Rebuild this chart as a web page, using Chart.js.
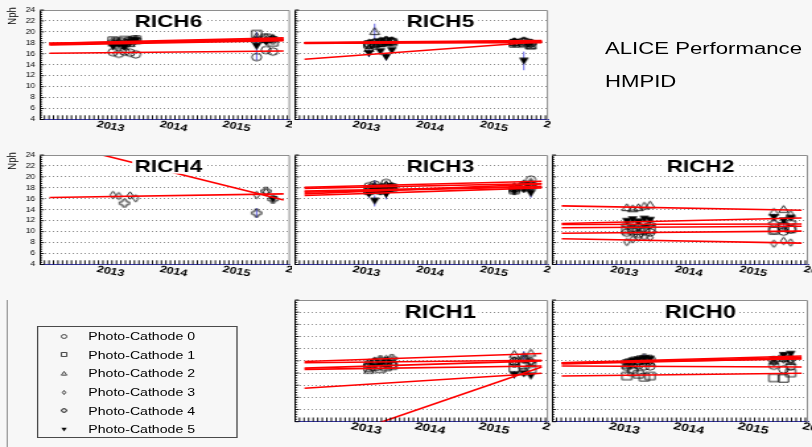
<!DOCTYPE html>
<html>
<head>
<meta charset="utf-8">
<script src="https://cdn.jsdelivr.net/npm/chart.js@4.4.0/dist/chart.umd.min.js"></script>
<style>
  html, body { margin: 0; padding: 0; background: #f7f7f7; overflow: hidden; }
  #stage { position: absolute; left: 0; top: 0; width: 615px; height: 447px;
           transform: scaleX(1.3203); transform-origin: 0 0;
           font-family: "Liberation Sans", Arial, Helvetica, sans-serif; color: #000; }
  #stage canvas { position: absolute; }
  .txt { position: absolute; white-space: nowrap; }
</style>
</head>
<body>
<div id="stage"></div>
<script>
// ---- time axis and run periods (decimal years) ----
const runTimes = [2013.04, 2013.13, 2013.22, 2013.31, 2013.40, 2015.32, 2015.47, 2015.58];
const fitRange = [2012.03, 2015.75];
const xAxisRange = [2011.88, 2015.85];
const yAxisRange = [4, 24];
const yearTicks = [2013, 2014, 2015, 2016];
const yearLabels = ['2013', '2014', '2015', '2016'];
const cathodeNames = ['Photo-Cathode 0', 'Photo-Cathode 1', 'Photo-Cathode 2',
                      'Photo-Cathode 3', 'Photo-Cathode 4', 'Photo-Cathode 5'];
const chamberNames = ['RICH6', 'RICH5', 'RICH4', 'RICH3', 'RICH2', 'RICH1', 'RICH0'];

// ---- Nph per photo-cathode, one value per run period (null = no measurement) ----
const nphRICH6 = [
  [16.3, 16.0, 16.4, 16.2, 15.9, 15.4, 16.7, 16.4],
  [18.4, 18.2, 18.5, 18.3, 18.6, 19.6, 18.9, 18.1],
  [18.0, 17.6, 18.2, 17.9, 18.4, 19.2, 18.6, 18.9],
  [17.9, 18.1, 17.8, 18.3, 18.5, 18.7, 18.4, 18.8],
  [18.2, 18.0, 17.5, 18.4, 18.6, 18.3, 18.9, 18.5],
  [17.3, 17.8, 17.2, 18.1, 18.4, 17.4, 18.2, 18.6]
];
const fitRICH6 = [[16.1, 16.5], [17.9, 18.9], [17.7, 18.7], [17.8, 18.5], [17.9, 18.6], [17.6, 18.4]];
const errRICH6 = [[5, 5, 2.6]];

const nphRICH5 = [
  [17.8, 18.0, 18.1, 18.3, 18.2, 18.0, 18.2, 17.9],
  [17.7, 17.9, 18.0, 18.2, 18.1, 17.9, 18.1, 17.6],
  [17.0, 20.1, 17.9, 18.2, 18.3, 18.1, 17.8, 17.5],
  [18.0, 18.2, 18.4, 18.5, 18.4, 18.2, 18.3, 18.0],
  [17.6, 17.5, 18.1, 18.4, 18.3, 18.1, 18.3, 17.9],
  [16.1, null, 16.4, 15.4, 16.6, 18.1, 14.7, 17.9]
];
const fitRICH5 = [[17.95, 18.3], [17.9, 18.2], [18.0, 18.05], [18.05, 18.4], [17.95, 18.35], [15.0, 18.2]];
const errRICH5 = [[2, 1, 1.4], [5, 6, 1.7], [5, 0, 0.7], [5, 3, 0.6]];

const nphRICH4 = [
  [null, null, null, null, null, null, null, null],
  [null, null, null, null, null, null, null, null],
  [null, null, null, null, null, null, null, null],
  [16.7, 16.5, null, 16.6, 16.1, 16.7, 17.2, null],
  [null, null, 15.2, null, null, 13.4, 17.4, 15.9],
  [null, null, null, null, null, null, null, 15.9]
];
const fitRICH4 = [null, null, null, [16.25, 16.9], [26.4, 15.8], null];
const errRICH4 = [[4, 5, 0.9]];

const nphRICH3 = [
  [18.3, 18.6, 17.8, 18.9, 18.2, 17.9, 18.5, 19.5],
  [17.5, 17.9, 17.6, 18.1, 18.0, 17.6, 18.2, 18.4],
  [18.0, 18.4, 18.2, 18.6, 18.3, 18.3, 18.8, 19.1],
  [17.8, 18.2, 17.9, 18.4, 18.1, 18.0, 18.4, 18.8],
  [17.3, 17.7, 17.5, 17.9, 18.0, 17.5, 18.0, 18.2],
  [16.9, 15.6, 17.3, 16.8, 17.9, 17.4, 17.7, 17.0]
];
const fitRICH3 = [[18.1, 19.2], [17.4, 18.3], [17.9, 18.8], [16.9, 18.7], [16.6, 18.0], [17.2, 18.2]];
const errRICH3 = [[5, 1, 1.0], [5, 3, 0.9], [0, 1, 0.8], [5, 7, 0.8], [2, 1, 0.7], [5, 0, 0.7]];

const nphRICH2 = [
  [9.8, 10.0, 9.6, 10.1, 9.9, 10.3, 10.0, 10.4],
  [10.3, 10.6, 10.2, 10.5, 10.4, 10.2, 10.9, 10.5],
  [14.4, 14.2, 14.4, 14.7, 14.9, 13.6, 14.1, 13.2],
  [8.1, 8.6, 8.9, 9.0, 8.9, 7.8, 8.3, 8.0],
  [11.2, 11.5, 11.0, 11.6, 11.3, 11.5, 11.2, 11.7],
  [11.9, 12.2, 11.8, 12.3, 12.1, 12.6, 12.0, 12.5]
];
const fitRICH2 = [[9.7, 10.1], [10.7, 11.0], [14.7, 13.9], [8.7, 7.9], [11.3, 11.4], [11.5, 12.5]];
const errRICH2 = [[5, 5, 0.7], [4, 6, 0.6]];

const nphRICH1 = [
  [13.5, 13.8, 13.2, 13.6, 13.4, 13.9, 12.2, 13.5],
  [12.9, 13.1, 12.7, 13.0, 13.2, 12.8, 13.3, 12.6],
  [12.5, 13.9, 14.1, 13.6, 13.8, 15.1, 14.8, 15.3],
  [13.7, 14.0, 13.8, 14.3, 14.1, 14.0, 14.2, 13.8],
  [13.2, 13.6, 14.2, 13.9, 14.4, 13.6, 14.3, 13.9],
  [null, null, null, null, null, 11.7, 11.9, 11.5]
];
const fitRICH1 = [[9.5, 11.95], [12.6, 13.15], [13.9, 15.2], [13.7, 14.1], [12.8, 14.0], [-0.4, 13.0]];
const errRICH1 = [[2, 6, 0.8], [5, 5, 0.6]];

const nphRICH0 = [
  [13.0, 12.5, 13.3, 13.1, 13.1, 13.2, 12.6, 13.1],
  [11.5, 12.2, 11.8, 11.3, 11.5, 11.2, 11.1, 12.0],
  [13.3, 13.6, 13.9, 14.1, 13.8, 14.0, 14.4, 13.9],
  [13.5, 13.8, 13.6, 14.0, 13.9, 13.7, 14.2, 14.0],
  [13.7, 14.0, 14.2, 14.5, 14.3, 14.1, 14.7, 14.3],
  [13.7, 14.0, 14.2, 14.4, 14.3, 14.2, 14.9, 15.1]
];
const fitRICH0 = [[13.15, 13.0], [11.5, 11.95], [13.7, 14.3], [13.6, 14.6], [13.5, 14.4], [13.7, 14.8]];
const errRICH0 = [[4, 3, 0.6]];

// ---- page geometry (unscaled horizontal units; the stage is stretched by 1.3203) ----
const colGeom = [
  { left: 0,   width: 221, L: 30.3, R: 1.4, titleX: 127.6, yLabels: true },
  { left: 221, width: 196, L: 2.4,  R: 1.9, titleX: 112.6, yLabels: false },
  { left: 417, width: 198, L: 1.1,  R: 3.0, titleX: 113.6, yLabels: false }
];
const rowGeom = [
  { top: 0,   height: 145, T: 10, B: 25.5, titleSize: 17, titleDy: 10.5, labelSize: 9.6 },
  { top: 145, height: 145, T: 10, B: 25.5, titleSize: 17, titleDy: 10.5, labelSize: 9.6 },
  { top: 290, height: 157, T: 10, B: 25.3, titleSize: 18, titleDy: 11.7, labelSize: 10.6 }
];
const panels = [
  { nph: nphRICH6, fit: fitRICH6, err: errRICH6, col: 0, row: 0 },
  { nph: nphRICH5, fit: fitRICH5, err: errRICH5, col: 1, row: 0 },
  { nph: nphRICH4, fit: fitRICH4, err: errRICH4, col: 0, row: 1 },
  { nph: nphRICH3, fit: fitRICH3, err: errRICH3, col: 1, row: 1 },
  { nph: nphRICH2, fit: fitRICH2, err: errRICH2, col: 2, row: 1 },
  { nph: nphRICH1, fit: fitRICH1, err: errRICH1, col: 1, row: 2 },
  { nph: nphRICH0, fit: fitRICH0, err: errRICH0, col: 2, row: 2 }
];
const FONT = '"Liberation Sans", Arial, Helvetica, sans-serif';
Chart.defaults.font.family = FONT;

// ---- marker shapes (open circle, square, triangle, diamond, cross; full inverted triangle) ----
const markerKinds = ['circle', 'square', 'triangle', 'diamond', 'opencross', 'downtriangle'];
function drawMarker(ctx, kind, cx, cy, s) {
  ctx.beginPath();
  if (kind === 'circle') {
    ctx.arc(cx, cy, s, 0, Math.PI * 2);
  } else if (kind === 'square') {
    ctx.rect(cx - s, cy - s, 2 * s, 2 * s);
  } else if (kind === 'triangle') {
    ctx.moveTo(cx, cy - s); ctx.lineTo(cx + s, cy + s * 0.85); ctx.lineTo(cx - s, cy + s * 0.85); ctx.closePath();
  } else if (kind === 'diamond') {
    ctx.moveTo(cx, cy - s); ctx.lineTo(cx + s * 0.6, cy); ctx.lineTo(cx, cy + s); ctx.lineTo(cx - s * 0.6, cy); ctx.closePath();
  } else if (kind === 'opencross') {
    const w = s * 0.38;
    const pts = [[-w,-s],[w,-s],[w,-w],[s,-w],[s,w],[w,w],[w,s],[-w,s],[-w,w],[-s,w],[-s,-w],[-w,-w]];
    pts.forEach((p, i) => i ? ctx.lineTo(cx + p[0], cy + p[1]) : ctx.moveTo(cx + p[0], cy + p[1]));
    ctx.closePath();
  } else if (kind === 'downtriangle') {
    ctx.moveTo(cx - s, cy - s * 0.85); ctx.lineTo(cx + s, cy - s * 0.85); ctx.lineTo(cx, cy + s); ctx.closePath();
    ctx.fill();
    return;
  }
  ctx.stroke();
}
function markerImage(kind, s, lw) {
  const c = document.createElement('canvas');
  const n = Math.ceil(2 * s + 3);
  c.width = n; c.height = n;
  const g = c.getContext('2d');
  g.strokeStyle = '#000'; g.fillStyle = '#000'; g.lineWidth = lw;
  drawMarker(g, kind, n / 2, n / 2, s);
  return c;
}
const markerImages = markerKinds.map(k => markerImage(k, 3.7, 0.85));

// ---- per-pad drawing: white frame, error bars, inner ticks, labels, title ----
const rootPad = {
  id: 'rootPad',
  beforeDraw(chart) {
    const a = chart.chartArea, ctx = chart.ctx;
    ctx.save();
    ctx.fillStyle = '#ffffff';
    ctx.fillRect(a.left, a.top, a.right - a.left, a.bottom - a.top);
    ctx.restore();
  },
  beforeDatasetsDraw(chart, args, o) {
    const { ctx, chartArea: a, scales: { x, y } } = chart;
    ctx.save();
    ctx.beginPath(); ctx.rect(a.left, a.top, a.right - a.left, a.bottom - a.top); ctx.clip();
    ctx.strokeStyle = 'rgba(70,70,225,0.85)';
    ctx.lineWidth = 1;
    o.err.forEach(([pc, run, e]) => {
      const v = o.nph[pc][run];
      if (v == null) return;
      const px = x.getPixelForValue(runTimes[run]);
      ctx.beginPath();
      ctx.moveTo(px, y.getPixelForValue(v - e));
      ctx.lineTo(px, y.getPixelForValue(v + e));
      ctx.stroke();
    });
    ctx.restore();
  },
  afterDraw(chart, args, o) {
    const { ctx, chartArea: a, scales: { x, y } } = chart;
    ctx.save();
    // frame top and right
    ctx.strokeStyle = '#8e8e8e'; ctx.lineWidth = 1;
    ctx.beginPath();
    ctx.moveTo(a.left, a.top + 0.5); ctx.lineTo(a.right - 0.5, a.top + 0.5); ctx.lineTo(a.right - 0.5, a.bottom);
    ctx.stroke();
    // y ticks pointing inside
    ctx.strokeStyle = '#000'; ctx.lineWidth = 0.9;
    const nMinor = Math.round((yAxisRange[1] - yAxisRange[0]) / 0.4);
    for (let i = 0; i <= nMinor; i++) {
      const py = y.getPixelForValue(yAxisRange[0] + i * 0.4);
      const len = i % 5 === 0 ? 3 : 1.8;
      ctx.beginPath(); ctx.moveTo(a.left, py); ctx.lineTo(a.left + len, py); ctx.stroke();
    }
    // x ticks pointing inside
    ctx.strokeStyle = '#000'; ctx.lineWidth = 0.95;
    const step = 1 / 14;
    for (let t = xAxisRange[0] + step; t < xAxisRange[1]; t += step) {
      const px = x.getPixelForValue(t);
      ctx.beginPath(); ctx.moveTo(px, a.bottom); ctx.lineTo(px, a.bottom - 4.2); ctx.stroke();
    }
    // tilted year labels
    ctx.fillStyle = '#000';
    ctx.font = 'bold ' + o.labelSize + 'px ' + FONT;
    ctx.textAlign = 'center'; ctx.textBaseline = 'middle';
    yearTicks.forEach((yr, i) => {
      ctx.save();
      ctx.translate(x.getPixelForValue(yr), a.bottom + 7);
      ctx.rotate(13 * Math.PI / 180);
      ctx.fillText(yearLabels[i], 0, 0);
      ctx.restore();
    });
    // axis title
    if (o.yTitle) {
      ctx.save();
      ctx.translate(9.5, a.top + 6);
      ctx.rotate(-Math.PI / 2);
      ctx.font = '9.5px ' + FONT;
      ctx.textAlign = 'center'; ctx.textBaseline = 'middle';
      ctx.fillText('Nph', 0, 0);
      ctx.restore();
    }
    // chamber title on a white box
    ctx.font = 'bold ' + o.titleSize + 'px ' + FONT;
    const w = ctx.measureText(o.title).width;
    const cy = a.top + o.titleDy;
    ctx.fillStyle = '#ffffff';
    ctx.fillRect(o.titleX - w / 2 - 2, cy - o.titleSize * 0.48, w + 4, o.titleSize * 0.96);
    ctx.fillStyle = '#000';
    ctx.textAlign = 'center'; ctx.textBaseline = 'alphabetic';
    ctx.fillText(o.title, o.titleX, cy + o.titleSize * 0.358);
    ctx.restore();
  }
};
Chart.register(rootPad);

const stage = document.getElementById('stage');

panels.forEach((p, idx) => {
  const col = colGeom[p.col], row = rowGeom[p.row];
  const cv = document.createElement('canvas');
  cv.width = col.width; cv.height = row.height;
  cv.style.left = col.left + 'px'; cv.style.top = row.top + 'px';
  cv.style.width = col.width + 'px'; cv.style.height = row.height + 'px';
  stage.appendChild(cv);

  const datasets = [];
  p.fit.forEach((f, i) => {
    if (!f) return;
    datasets.push({
      label: 'fit ' + cathodeNames[i],
      data: [{ x: fitRange[0], y: f[0] }, { x: fitRange[1], y: f[1] }],
      showLine: true, borderColor: '#ff0000', borderWidth: 1.6,
      pointRadius: 0, order: 0
    });
  });
  p.nph.forEach((vals, i) => {
    const pts = [];
    vals.forEach((v, k) => { if (v != null) pts.push({ x: runTimes[k], y: v }); });
    datasets.push({
      label: cathodeNames[i], data: pts, showLine: false,
      pointStyle: markerImages[i], pointRadius: 3, order: 1
    });
  });

  new Chart(cv, {
    type: 'scatter',
    data: { datasets },
    options: {
      responsive: false, animation: false, events: [],
      layout: { autoPadding: false, padding: { left: 0, top: row.T, right: col.R, bottom: 0 } },
      plugins: {
        legend: { display: false }, tooltip: { enabled: false },
        rootPad: {
          nph: p.nph, err: p.err, title: chamberNames[idx], titleX: col.titleX,
          titleSize: row.titleSize, titleDy: row.titleDy, labelSize: row.labelSize,
          yTitle: col.yLabels
        }
      },
      scales: {
        x: {
          type: 'linear', min: xAxisRange[0], max: xAxisRange[1],
          ticks: { display: false }, grid: { display: false },
          border: { display: true, color: '#3636a6', width: 1 },
          afterFit: s => { s.height = row.B; }
        },
        y: {
          min: yAxisRange[0], max: yAxisRange[1],
          ticks: { display: col.yLabels, stepSize: 2, color: '#000', padding: 3.6,
                   font: { size: 6.5, family: FONT } },
          grid: {
            drawTicks: false, lineWidth: 0.8,
            color: c => (c.tick && (c.tick.value === yAxisRange[0] || c.tick.value === yAxisRange[1])) ? 'rgba(0,0,0,0)' : '#707070'
          },
          border: { display: true, color: '#000', width: 1, dash: [1, 2] },
          afterFit: s => { s.width = col.L; }
        }
      }
    }
  });
});

// ---- header text ----
function addText(str, left, top, size) {
  const d = document.createElement('div');
  d.className = 'txt';
  d.textContent = str;
  d.style.left = left + 'px'; d.style.top = top + 'px';
  d.style.fontSize = size + 'px'; d.style.lineHeight = size + 'px';
  stage.appendChild(d);
}
addText('ALICE Performance', 458.2, 40.8, 16.8);
addText('HMPID', 458.2, 74.1, 16.8);

// ---- legend pad ----
const padEdge = document.createElement('div');
padEdge.style.cssText = 'position:absolute;left:5px;top:300px;width:0.8px;height:147px;background:#9a9a9a;';
stage.appendChild(padEdge);

const legend = document.createElement('div');
legend.style.cssText = 'position:absolute;left:28px;top:326px;width:152px;height:112px;border:1px solid #4a4a4a;box-sizing:border-box;';
stage.appendChild(legend);
cathodeNames.forEach((name, i) => {
  const cy = 9.2 + i * 18.66;
  const mk = markerImage(markerKinds[i], 2.0, 0.7);
  mk.style.cssText = 'position:absolute;left:' + (19.7 - mk.width / 2) + 'px;top:' + (cy - mk.height / 2) + 'px;';
  legend.appendChild(mk);
  const t = document.createElement('div');
  t.className = 'txt';
  t.textContent = name;
  t.style.cssText += 'left:37.9px;top:' + (cy - 9.33) + 'px;height:18.66px;line-height:18.66px;font-size:10.7px;';
  legend.appendChild(t);
});
</script>
</body>
</html>
